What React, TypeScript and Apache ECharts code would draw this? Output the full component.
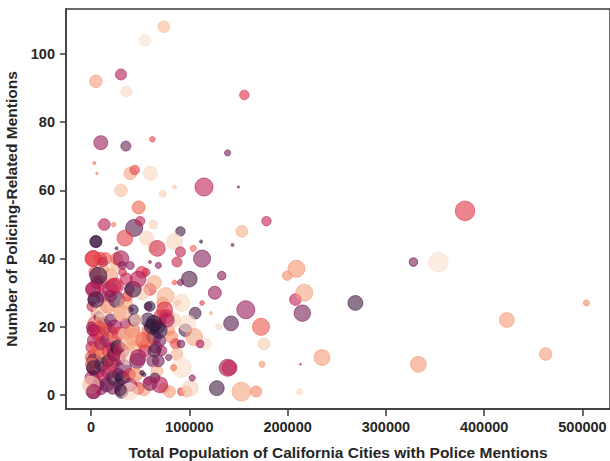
import React, { useEffect, useRef } from "react";
import * as echarts from "echarts";

// Population (thousands), mentions, bubble size variable, hue variable (0..1)
const populationK: number[] = [
  // dense cluster
  1, 2, 1, 3, 2, 4, 1, 3, 2, 4, 5, 1, 3, 2, 6, 4, 2, 5, 6, 7, 6, 7, 8, 8, 3, 0.5, 0.5,
  10, 12, 11, 13, 10, 12, 14, 11, 9.5, 12, 10, 13, 15, 16, 18, 17, 19, 16, 18, 20, 17, 19, 20,
  22, 23, 21, 24, 22, 25, 24, 26, 23, 25, 27, 28, 27, 29, 28, 29, 26,
  31, 32, 33, 31, 34, 35, 36, 38, 37, 39, 40, 42, 44, 41, 43, 45, 47, 46, 48, 39, 37, 36, 40,
  53, 55, 57, 58, 60, 62, 64, 66, 63, 68, 70, 72, 67, 65, 71, 73, 77, 80, 82, 84, 86, 74, 58, 60, 52, 56, 54, 88,
  // spread
  74, 55, 5, 30.5, 36, 156, 10, 35.5, 62.5, 139, 3.5, 6, 40, 44.5, 60.5, 30.5, 73, 85, 115, 150,
  48.5, 13.5, 23, 44, 50, 63.5, 91, 153.5, 178.5, 380.5, 5, 34.5, 56.5, 63, 67.5, 85, 91, 87.5, 104, 112,
  144, 113, 2.5, 9.5, 12, 26, 30.5, 32, 68.5, 60, 209, 199.5, 328, 353.5, 7.5, 32, 51.5, 64.5, 100, 91,
  85, 133, 2.5, 25, 43, 48, 76, 92, 126, 113, 122, 208, 217, 215, 269, 504, 157.5, 5, 20, 31,
  58, 75, 77.5, 106, 142.5, 173, 130, 423, 8.5, 2.5, 46, 64, 69.5, 96, 98, 105, 117, 111, 91.5, 176,
  54, 43, 64.5, 87.5, 235, 333, 462.5, 213, 174, 139, 141, 92, 79, 84, 68.5, 48, 2.5, 0, 3, 128,
  153, 168, 212, 92, 97, 101, 80, 103, 70, 39, 54, 30, 52, 60,
];

const mentions: number[] = [
  3, 1, 5, 8, 11, 12, 14, 16, 19, 21, 24, 26, 28, 31, 33, 36, 40, 45, 7, 3, 13, 18, 9, 23, 10, 20, 9,
  2, 5, 9, 12, 15, 17, 20, 22, 25, 29, 33, 37, 40, 3, 7, 10, 13, 16, 19, 22, 26, 31, 35,
  2, 5, 9, 12, 14, 17, 20, 28, 32, 38, 11, 6, 14, 3, 18, 24, 40,
  1, 5, 8, 13, 18, 21, 27, 15, 11, 6, 3, 19, 22, 25, 25, 14, 10, 6, 2, 31, 29, 34, 38,
  16, 13, 19, 22, 26, 20, 17, 14, 10, 20, 16, 13, 7, 5, 23, 27, 23, 19, 17, 22, 15, 2, 4, 31, 30, 36, 6, 27,
  108, 104, 92, 94, 89, 88, 74, 73, 75, 71, 68, 65, 65, 66, 65, 60, 59, 61, 61, 61,
  55, 50, 50, 49, 51, 50, 48, 48, 51, 54, 45, 46, 46, 43.5, 43, 45, 42, 39, 43, 45,
  44, 40, 40, 40, 39, 43, 40, 38, 38, 39, 37, 35, 39, 39, 35, 36, 36, 33, 34, 33,
  33, 35, 31, 32, 31, 34, 29, 27, 30, 27, 24, 28, 30, 24, 27, 27, 25, 28, 29, 24,
  26, 25, 22, 24, 21, 20, 20, 22, 20, 19, 22, 21, 19, 19, 21, 17, 15, 15, 15, 15,
  16, 17, 13, 12, 11, 9, 12, 9, 9, 8, 8, 8, 11, 8, 10, 11, 8, 3, 1, 2,
  1, 1, 1, 1, 1, 2, 1, 5, 3, 1, 1.5, 1.5, 6.5, 3.4,
];

const sizeValues: number[] = [
  17, 14, 14, 14, 15, 12, 12, 13, 12, 14, 10, 10, 12, 15, 12, 12, 16, 12, 15, 12, 14, 14, 13, 10, 14, 10, 12,
  13, 15, 14, 15, 12, 14, 15, 12, 14, 12, 14, 10, 12, 14, 15, 12, 15, 13, 14, 12, 14, 15, 14,
  12, 14, 15, 14, 12, 13, 14, 16, 15, 10, 16, 12, 14, 12, 13, 12, 12,
  13, 14, 16, 15, 12, 10, 12, 14, 14, 12, 13, 15, 12, 4, 10, 13, 15, 13, 12, 10, 10, 12, 8,
  14, 12, 10, 14, 10, 15, 14, 12, 12, 14, 12, 10, 12, 10, 14, 12, 14, 10, 12, 14, 10, 10, 8, 12, 14, 8, 4, 6,
  11.7, 11.7, 12.5, 11, 11, 9.4, 14, 10, 5.5, 6.2, 3.1, 2.3, 12.5, 9.4, 14, 12.5, 7, 4, 18, 2.3,
  13, 11.7, 4.7, 17, 9.4, 8.6, 9.4, 11.7, 9.4, 19.5, 11.7, 15.6, 14, 11.7, 15.6, 15.6, 10, 10, 6.2, 3.1,
  3.1, 17, 15.6, 12.5, 9.4, 3.1, 15.6, 7.8, 6.2, 3.1, 17, 9.4, 8.6, 19.5, 17, 7.8, 11.7, 14, 15.6, 6.2,
  4.7, 8.6, 14, 15.6, 15.6, 15.6, 17, 17, 13, 4.7, 3.1, 11.7, 17, 16.4, 14.8, 6.2, 18, 15.6, 11.7, 15.6,
  7.8, 15.6, 14, 11.7, 14.8, 17, 6.2, 14.8, 11.7, 11.7, 11.7, 15.6, 15.6, 12.5, 17, 17, 11, 7.8, 7.8, 11.7,
  17, 17, 12.5, 11.7, 15.6, 15.6, 12.5, 1.6, 6.2, 17, 15, 19.5, 6.2, 6.2, 11.7, 15.6, 14, 17, 14, 14.8,
  18.7, 11, 6.2, 7.8, 11, 15.6, 11.7, 6.2, 15.6, 17, 11.7, 11.7, 4.7, 14,
];

const hueValues: number[] = [
  0.95, 0.3, 0.45, 0.15, 0.65, 0.6, 0.5, 0.45, 0.4, 0.65, 0.8, 0.5, 0.2, 0.4, 0.35, 0.6, 0.6, 0.15, 0.35, 0.3, 0.7, 0.5, 0.9, 0.3, 0.25, 0.35, 0.7,
  0.35, 0.5, 0.2, 0.75, 0.4, 0.6, 0.3, 0.85, 0.95, 0.45, 0.5, 0.8, 0.65, 0.25, 0.45, 0.1, 0.55, 0.35, 0.65, 0.25, 0.75, 0.45, 0.8,
  0.3, 0.2, 0.5, 0.15, 0.45, 0.75, 0.4, 0.2, 0.45, 0.85, 0.45, 0.3, 0.1, 0.25, 0.55, 0.9, 0.7,
  0.2, 0.1, 0.3, 0.5, 0.9, 0.4, 0.8, 0.85, 0.95, 0.55, 0.35, 0.7, 0.25, 0.2, 0.15, 0.85, 0.3, 0.75, 0.55, 0.3, 0.6, 0.5, 0.35,
  0.65, 0.5, 0.7, 0.2, 0.15, 0.1, 0.2, 0.4, 0.3, 0.15, 0.3, 0.4, 0.85, 0.2, 0.55, 0.75, 0.45, 0.8, 0.75, 0.9, 0.6, 0.75, 0.45, 0.6, 0.9, 0.5, 0.2, 0.8,
  0.87, 0.97, 0.8, 0.45, 0.95, 0.55, 0.38, 0.28, 0.6, 0.3, 0.7, 0.7, 0.82, 0.6, 0.95, 0.88, 0.93, 0.9, 0.47, 0.3,
  0.68, 0.45, 0.72, 0.22, 0.48, 0.93, 0.18, 0.85, 0.48, 0.57, 0.18, 0.6, 0.93, 0.95, 0.52, 0.94, 0.48, 0.5, 0.68, 0.15,
  0.3, 0.33, 0.58, 0.6, 0.5, 0.2, 0.4, 0.33, 0.33, 0.35, 0.78, 0.76, 0.3, 0.97, 0.15, 0.5, 0.55, 0.83, 0.2, 0.35,
  0.65, 0.35, 0.45, 0.52, 0.18, 0.45, 0.84, 0.95, 0.38, 0.6, 0.82, 0.47, 0.82, 0.3, 0.18, 0.77, 0.38, 0.2, 0.35, 0.82,
  0.2, 0.55, 0.45, 0.2, 0.22, 0.65, 0.95, 0.8, 0.6, 0.45, 0.92, 0.12, 0.15, 0.2, 0.96, 0.82, 0.96, 0.42, 0.3, 0.92,
  0.66, 0.8, 0.2, 0.85, 0.8, 0.79, 0.8, 0.35, 0.78, 0.4, 0.48, 0.96, 0.3, 0.7, 0.3, 0.4, 0.2, 0.92, 0.4, 0.18,
  0.82, 0.75, 0.95, 0.6, 0.83, 0.93, 0.8, 0.35, 0.45, 0.95, 0.8, 0.2, 0.15, 0.35,
];

const xTicks: number[] = [0, 100000, 200000, 300000, 400000, 500000];
const yTicks: number[] = [0, 20, 40, 60, 80, 100];

const ROCKET = ["#03051a", "#35193e", "#701f57", "#ad1759", "#e13342", "#f37651", "#f6b48f", "#faebdd"];

function hexToRgb(h: string): number[] {
  return [1, 3, 5].map((i) => parseInt(h.slice(i, i + 2), 16));
}
function rocket(t: number): string {
  const n = ROCKET.length - 1;
  const p = Math.max(0, Math.min(1, t)) * n;
  const i = Math.min(n - 1, Math.floor(p));
  const f = p - i;
  const a = hexToRgb(ROCKET[i]);
  const b = hexToRgb(ROCKET[i + 1]);
  const c = a.map((v, k) => Math.round(v + (b[k] - v) * f));
  return `rgb(${c[0]},${c[1]},${c[2]})`;
}

const FONT = "'Liberation Sans', Arial, sans-serif";
const AXIS_COLOR = "#3a3a3a";
const TEXT_COLOR = "#262626";

export default function App() {
  const ref = useRef<HTMLDivElement>(null);
  useEffect(() => {
    if (!ref.current) return;
    const chart = echarts.init(ref.current, undefined, { renderer: "svg" });
    const n = Math.min(populationK.length, mentions.length, sizeValues.length, hueValues.length);
    const data = [];
    for (let i = 0; i < n; i++) {
      const col = rocket(hueValues[i]);
      data.push({
        value: [populationK[i] * 1000, mentions[i], sizeValues[i]],
        itemStyle: { color: col, borderColor: col },
      });
    }
    chart.setOption({
      animation: false,
      grid: {
        left: 66,
        top: 9,
        right: 0,
        bottom: 52,
        containLabel: false,
        outerBoundsMode: "none",
        show: true,
        borderColor: AXIS_COLOR,
        borderWidth: 1.5,
      },
      xAxis: {
        type: "value",
        min: -25400,
        max: 528000,
        name: "Total Population of California Cities with Police Mentions",
        nameLocation: "middle",
        nameGap: 35,
        nameTextStyle: { fontFamily: FONT, fontWeight: "bold", fontSize: 15.5, color: TEXT_COLOR },
        axisLine: { show: true, onZero: false, lineStyle: { color: AXIS_COLOR, width: 1.5 } },
        axisTick: { show: true, length: 7, customValues: xTicks, lineStyle: { color: AXIS_COLOR, width: 1.5 } },
        axisLabel: {
          customValues: xTicks,
          formatter: (v: number) => String(v),
          fontFamily: FONT,
          fontWeight: "bold",
          fontSize: 14.5,
          color: TEXT_COLOR,
          margin: 10,
        },
        splitLine: { show: false },
      },
      yAxis: {
        type: "value",
        min: -4.1,
        max: 113.2,
        name: "Number of Policing-Related Mentions",
        nameLocation: "middle",
        nameGap: 28,
        nameTextStyle: { fontFamily: FONT, fontWeight: "bold", fontSize: 15.5, color: TEXT_COLOR },
        axisLine: { show: true, onZero: false, lineStyle: { color: AXIS_COLOR, width: 1.5 } },
        axisTick: { show: true, length: 6, customValues: yTicks, lineStyle: { color: AXIS_COLOR, width: 1.5 } },
        axisLabel: {
          customValues: yTicks,
          formatter: (v: number) => String(v),
          fontFamily: FONT,
          fontWeight: "bold",
          fontSize: 14.5,
          color: TEXT_COLOR,
          margin: 11,
        },
        splitLine: { show: false },
      },
      series: [
        {
          type: "scatter",
          data,
          symbol: "circle",
          symbolSize: (v: number[]) => v[2],
          itemStyle: { opacity: 0.6, borderWidth: 1 },
          emphasis: { disabled: true },
        },
      ],
    });
    return () => chart.dispose();
  }, []);
  return <div ref={ref} style={{ width: 610, height: 461, position: "absolute", left: 0, top: 0 }} />;
}
